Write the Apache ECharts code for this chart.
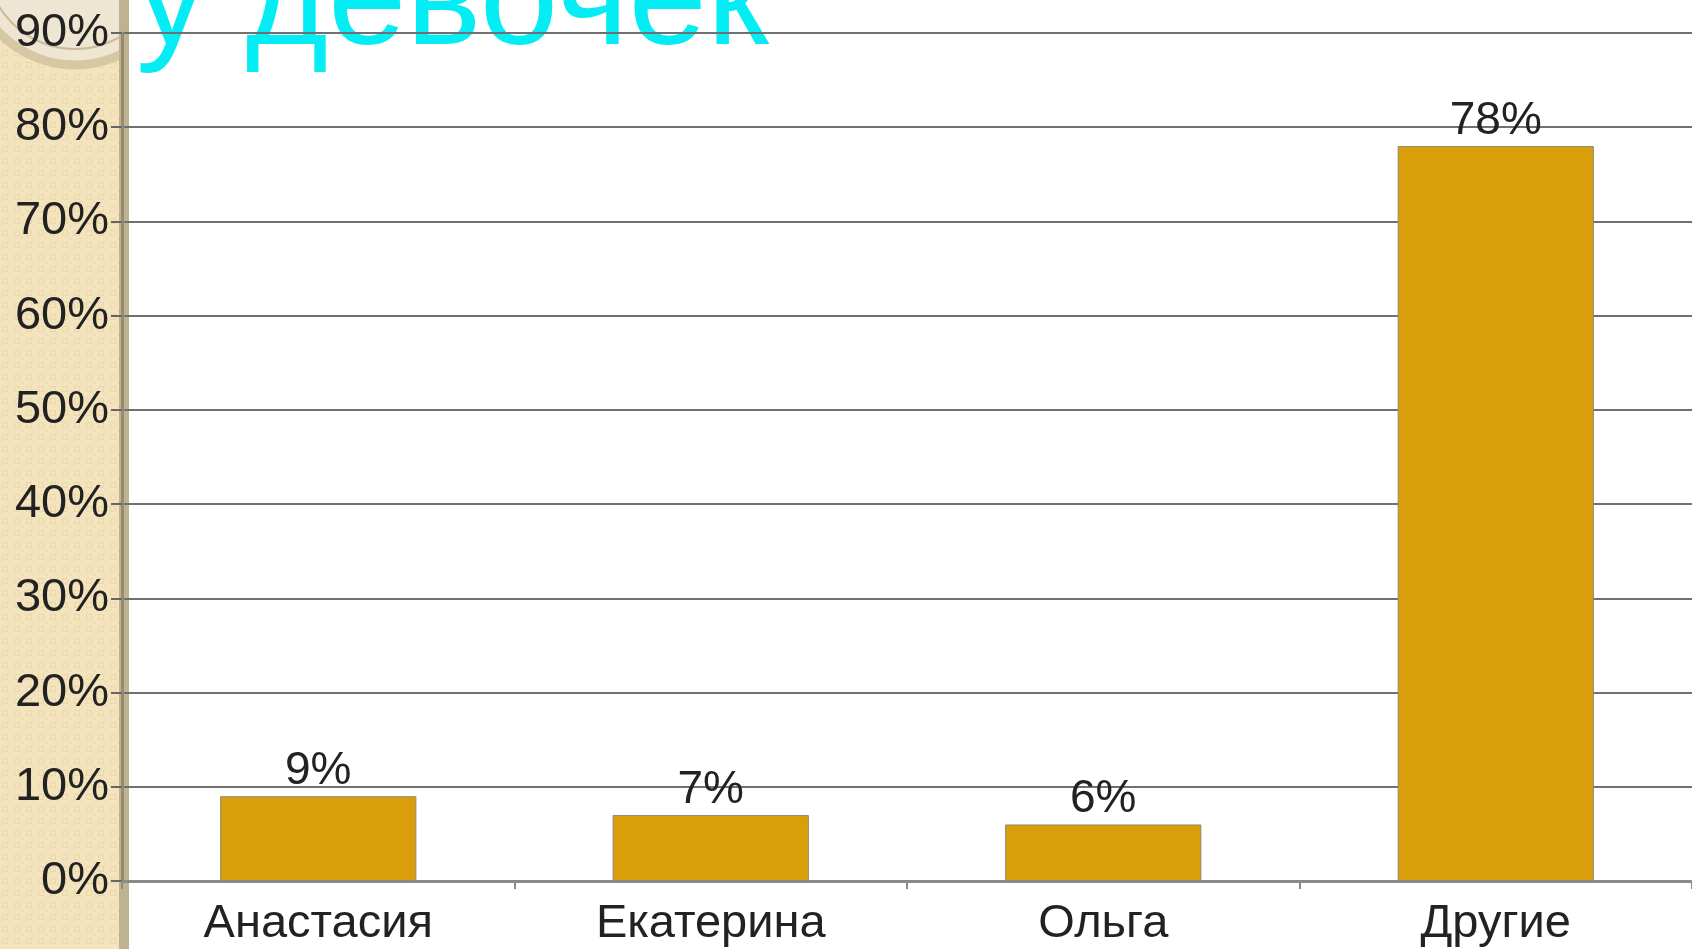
<!DOCTYPE html>
<html>
<head>
<meta charset="utf-8">
<script src="https://cdn.jsdelivr.net/npm/echarts@6/dist/echarts.min.js"></script>
<style>
html,body{margin:0;padding:0;background:#fff;}
#chart{width:1692px;height:949px;}
</style>
</head>
<body>
<div id="chart"></div>
<script>
const titleText = 'у девочек';
const categories = ['Анастасия', 'Екатерина', 'Ольга', 'Другие'];
const values = [9, 7, 6, 78];
const yMin = 0, yMax = 90, yStep = 10;

// subtle beige texture
const pat = document.createElement('canvas');
pat.width = 12; pat.height = 12;
const pc = pat.getContext('2d');
pc.fillStyle = '#F4E4BD'; pc.fillRect(0, 0, 12, 12);
pc.strokeStyle = '#EAD8AB'; pc.lineWidth = 1;
pc.strokeRect(2.5, 2.5, 5, 5);
pc.fillStyle = '#EFDEB3'; pc.fillRect(9, 9, 2, 2);

const FONT = '"Liberation Sans", Arial, sans-serif';
const chart = echarts.init(document.getElementById('chart'));
chart.setOption({
  backgroundColor: '#ffffff',
  animation: false,
  graphic: [
    { type: 'rect', z: -20, shape: { x: 0, y: 0, width: 129, height: 949 },
      style: { fill: { image: pat, repeat: 'repeat' } } },
    { type: 'circle', z: -19, shape: { cx: 75, cy: -40, r: 105 },
      style: { fill: '#EEE6D2', stroke: '#D6C8A3', lineWidth: 9 } },
    { type: 'circle', z: -18, shape: { cx: 75, cy: -40, r: 89 },
      style: { fill: 'none', stroke: '#CBBC97', lineWidth: 2 } },
    { type: 'rect', z: -17, shape: { x: 119, y: 0, width: 10, height: 949 },
      style: { fill: '#BFB290' } },
    { type: 'rect', z: -16, shape: { x: 129, y: 0, width: 300, height: 120 },
      style: { fill: '#ffffff' } },
    { type: 'text', z: -15, x: 136, y: 5,
      style: { text: titleText, fill: '#05EDF4', font: '141px ' + FONT,
               textAlign: 'left', textVerticalAlign: 'middle' } }
  ],
  grid: { left: 122, top: 33, width: 1575, height: 848, containLabel: false },
  xAxis: {
    type: 'category',
    data: categories,
    axisLine: { lineStyle: { color: '#8a8a8a', width: 3 } },
    axisTick: { show: true, length: 8, lineStyle: { color: '#8a8a8a', width: 2 } },
    axisLabel: { color: '#222', fontSize: 47, fontFamily: FONT, margin: 20 }
  },
  yAxis: {
    type: 'value',
    min: yMin, max: yMax, interval: yStep,
    axisLine: { show: true, lineStyle: { color: '#958B72', width: 3 } },
    axisTick: { show: true, length: 11, lineStyle: { color: '#666', width: 2 } },
    axisLabel: { color: '#222', fontSize: 47, fontFamily: FONT, margin: 13,
                 formatter: '{value}%' },
    splitLine: { show: true, lineStyle: { color: '#707070', width: 2 } }
  },
  series: [{
    type: 'bar',
    data: values,
    barWidth: '50%',
    itemStyle: { color: '#DA9E0A', borderColor: '#8f8a78', borderWidth: 1 },
    label: { show: true, position: 'top', distance: 2, color: '#222',
             fontSize: 46, fontFamily: FONT, formatter: '{c}%' }
  }]
});
</script>
</body>
</html>
